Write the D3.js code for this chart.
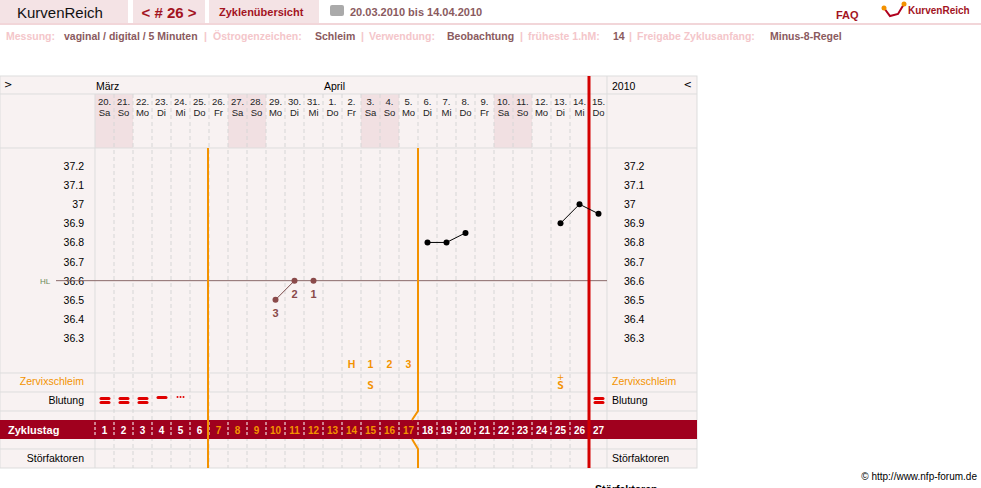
<!DOCTYPE html><html><head><meta charset="utf-8"><script src="https://cdn.jsdelivr.net/npm/d3@7"></script>
<style>body{margin:0;background:#fff;font-family:"DejaVu Sans",Verdana,sans-serif}</style></head><body><svg id="c" width="981" height="488"></svg>
<script>
const dates=["20.","21.","22.","23.","24.","25.","26.","27.","28.","29.","30.","31.","1.","2.","3.","4.","5.","6.","7.","8.","9.","10.","11.","12.","13.","14.","15."];
const weekdays=["Sa","So","Mo","Di","Mi","Do","Fr","Sa","So","Mo","Di","Mi","Do","Fr","Sa","So","Mo","Di","Mi","Do","Fr","Sa","So","Mo","Di","Mi","Do"];
const cycleDays=d3.range(1,28);
const tempTicks=[37.2,37.1,37.0,36.9,36.8,36.7,36.6,36.5,36.4,36.3];
const tempPoints=[{d:10,t:36.5},{d:11,t:36.6},{d:12,t:36.6},{d:18,t:36.8},{d:19,t:36.8},{d:20,t:36.85},{d:25,t:36.9},{d:26,t:37.0},{d:27,t:36.95}];
const tempSegments=[[10,11],[18,19],[19,20],[25,26],[26,27]];
const countLabels=[{d:10,l:"3"},{d:11,l:"2"},{d:12,l:"1"}];
const peakLabels=[{d:14,l:"H"},{d:15,l:"1"},{d:16,l:"2"},{d:17,l:"3"}];
const mucus=[{d:15,l:"S",plus:false},{d:25,l:"S",plus:true}];
const bleeding=[{d:1,k:2},{d:2,k:2},{d:3,k:2},{d:4,k:1},{d:5,k:0},{d:27,k:2}];
const hl=36.6;
const svg=d3.select("#c");
const x=d3.scaleLinear().domain([0.5,27.5]).range([95,608]);
const y=d3.scaleLinear().domain([36.3,37.2]).range([338,166]);
const cw=19;
svg.append("rect").attr("x",0).attr("y",0).attr("width",128).attr("height",23).attr("fill","#f4e3e5");
svg.append("rect").attr("x",133).attr("y",0).attr("width",72).attr("height",23).attr("fill","#f4e3e5");
svg.append("rect").attr("x",209).attr("y",0).attr("width",110).attr("height",23).attr("fill","#f4e3e5");
svg.append("rect").attr("x",0).attr("y",23).attr("width",981).attr("height",2).attr("fill","#f2d6d9");
const T=(xx,yy,s,o={})=>svg.append("text").attr("x",xx).attr("y",yy).text(s).attr("font-size",o.fs||11).attr("fill",o.c||"#000").attr("font-weight",o.fw||"normal").attr("text-anchor",o.a||"start").attr("font-family",o.ff||"DejaVu Sans, sans-serif");
T(17,18,"KurvenReich",{fs:15,c:"#111",ff:"Liberation Sans, Arial"});
T(169,18,"< # 26 >",{fs:15,c:"#a3141f",fw:"bold",a:"middle",ff:"Liberation Sans, Arial"});
T(219,16,"Zyklenübersicht",{fs:11,c:"#a3141f",fw:"bold",ff:"Liberation Sans, Arial"});
svg.append("rect").attr("x",330).attr("y",5).attr("width",14).attr("height",11).attr("fill","#aaa").attr("rx",2);
T(350,16,"20.03.2010 bis 14.04.2010",{fs:11,c:"#8a5a5e",fw:"bold",ff:"Liberation Sans, Arial"});
T(836,19,"FAQ",{fs:11,c:"#a3141f",fw:"bold",ff:"Liberation Sans, Arial"});
svg.append("path").attr("d","M884,8 L890,16 L898,14 L904,4").attr("stroke","#b0001e").attr("fill","none").attr("stroke-width",2);
[[884,8],[904,4]].forEach(p=>svg.append("circle").attr("cx",p[0]).attr("cy",p[1]).attr("r",2.5).attr("fill","#f39200"));
T(908,14,"KurvenReich",{fs:10,c:"#a3141f",fw:"bold",ff:"Liberation Sans, Arial"});
const info=[["Messung:",6,"#f4c6ca"],["vaginal / digital / 5 Minuten",64,"#8a5a5e"],["|",204,"#f4c6ca"],["Östrogenzeichen:",213,"#f4c6ca"],["Schleim",315,"#8a5a5e"],["|",361,"#f4c6ca"],["Verwendung:",369,"#f4c6ca"],["Beobachtung",447,"#8a5a5e"],["|",520,"#f4c6ca"],["früheste 1.hM:",528,"#f4c6ca"],["14",613,"#8a5a5e"],["|",629,"#f4c6ca"],["Freigabe Zyklusanfang:",637,"#f4c6ca"],["Minus-8-Regel",770,"#8a5a5e"]];
info.forEach(i=>T(i[1],40,i[0],{fs:10.5,c:i[2],fw:"bold",ff:"Liberation Sans, Arial"}));
const topY=76,botY=468;
svg.append("rect").attr("x",0).attr("y",topY).attr("width",697).attr("height",botY-topY).attr("fill","#f8f2f2").attr("stroke","#ddd");
cycleDays.filter((d,i)=>weekdays[i]==="Sa"||weekdays[i]==="So").forEach(d=>svg.append("rect").attr("x",x(d)-cw/2).attr("y",94).attr("width",cw).attr("height",54).attr("fill","#f1e0e2"));
[94,148,373,392,411,449].forEach(yy=>svg.append("line").attr("x1",0).attr("x2",697).attr("y1",yy).attr("y2",yy).attr("stroke","#ddd"));
svg.append("line").attr("x1",95).attr("x2",95).attr("y1",94).attr("y2",botY).attr("stroke","#ddd");
svg.append("line").attr("x1",607).attr("x2",607).attr("y1",topY).attr("y2",botY).attr("stroke","#ddd");
cycleDays.slice(0,26).forEach(d=>svg.append("line").attr("x1",x(d)+cw/2).attr("x2",x(d)+cw/2).attr("y1",94).attr("y2",botY).attr("stroke","#d6d6d6").attr("stroke-dasharray","4,3"));
svg.append("rect").attr("x",0).attr("y",420).attr("width",697).attr("height",19).attr("fill","#a0001e");
T(8,434,"Zyklustag",{fs:11,c:"#fff",fw:"bold",ff:"Liberation Sans, Arial"});
cycleDays.slice(0,26).forEach(d=>svg.append("line").attr("x1",x(d)+cw/2).attr("x2",x(d)+cw/2).attr("y1",422).attr("y2",437).attr("stroke","#fff").attr("stroke-dasharray","3,2"));
svg.append("line").attr("x1",95).attr("x2",95).attr("y1",422).attr("y2",437).attr("stroke","#fff").attr("stroke-dasharray","3,2");
cycleDays.forEach(d=>T(x(d),434,d,{fs:10,c:(d>=7&&d<=17)?"#f39200":"#fff",fw:"bold",a:"middle",ff:"Liberation Sans, Arial"}));
T(4,88,">",{fs:10});T(96,90,"März",{fs:10.5,ff:"Liberation Sans, Arial"});T(324,90,"April",{fs:10.5,ff:"Liberation Sans, Arial"});
T(612,90,"2010",{fs:10.5,ff:"Liberation Sans, Arial"});T(692,88,"<",{fs:10,a:"end"});
cycleDays.forEach((d,i)=>{T(x(d),105,dates[i],{fs:9.5,a:"middle",c:"#222",ff:"Liberation Sans, Arial"});T(x(d),116,weekdays[i],{fs:9.5,a:"middle",c:"#222",ff:"Liberation Sans, Arial"});});
tempTicks.forEach(t=>{const s=t===37?"37":t.toFixed(1);T(84,y(t)+4,s,{fs:10.5,a:"end",ff:"Liberation Sans, Arial"});T(624,y(t)+4,s,{fs:10.5,ff:"Liberation Sans, Arial"});});
svg.append("line").attr("x1",56).attr("x2",607).attr("y1",y(hl)).attr("y2",y(hl)).attr("stroke","#8a6a6a");
T(40,y(hl)+3,"HL",{fs:8,c:"#6a8a5a",ff:"Liberation Sans, Arial"});
T(84,385,"Zervixschleim",{fs:10.5,a:"end",c:"#f39200",ff:"Liberation Sans, Arial"});T(612,385,"Zervixschleim",{fs:10.5,c:"#f39200",ff:"Liberation Sans, Arial"});
T(84,404,"Blutung",{fs:10.5,a:"end",ff:"Liberation Sans, Arial"});T(612,404,"Blutung",{fs:10.5,ff:"Liberation Sans, Arial"});
T(84,462,"Störfaktoren",{fs:10.5,a:"end",ff:"Liberation Sans, Arial"});T(612,462,"Störfaktoren",{fs:10.5,ff:"Liberation Sans, Arial"});
svg.append("line").attr("x1",208).attr("x2",208).attr("y1",148).attr("y2",botY).attr("stroke","#f39200").attr("stroke-width",2);
const xo=x(17)+cw/2;
svg.append("path").attr("d",`M${xo},148 L${xo},411 L${xo-6},420 M${xo-6},439 L${xo},449 L${xo},${botY}`).attr("stroke","#f39200").attr("stroke-width",2).attr("fill","none");
svg.append("line").attr("x1",x(26)+cw/2).attr("x2",x(26)+cw/2).attr("y1",topY).attr("y2",botY).attr("stroke","#d40000").attr("stroke-width",3);
peakLabels.forEach(p=>T(x(p.d),368,p.l,{fs:10.5,c:"#f39200",fw:"bold",a:"middle",ff:"Liberation Sans, Arial"}));
mucus.forEach(m=>{T(x(m.d),389,m.l,{fs:11,c:"#f39200",fw:"bold",a:"middle",ff:"DejaVu Sans Mono"});if(m.plus)T(x(m.d),380,"+",{fs:9,c:"#f39200",a:"middle"});});
bleeding.forEach(b=>{const cx=x(b.d);if(b.k===2){[397,401].forEach(yy=>svg.append("rect").attr("x",cx-5).attr("y",yy).attr("width",11).attr("height",3).attr("rx",1.5).attr("fill","#e00000"));}
else if(b.k===1){svg.append("rect").attr("x",cx-5).attr("y",396).attr("width",11).attr("height",3).attr("rx",1.5).attr("fill","#e00000");}
else{[-3,0,3].forEach(o=>svg.append("circle").attr("cx",cx+o).attr("cy",397).attr("r",1).attr("fill","#e00000"));}});
const byDay=new Map(tempPoints.map(p=>[p.d,p]));
tempSegments.forEach(s=>{const a=byDay.get(s[0]),b=byDay.get(s[1]);svg.append("line").attr("x1",x(a.d)).attr("y1",y(a.t)).attr("x2",x(b.d)).attr("y2",y(b.t)).attr("stroke",a.d<15?"#7a4a4a":"#000");});
tempPoints.forEach(p=>svg.append("circle").attr("cx",x(p.d)).attr("cy",y(p.t)).attr("r",3).attr("fill",p.d<15?"#8a4a4a":"#000"));
countLabels.forEach(c=>T(x(c.d),y(byDay.get(c.d).t)+17,c.l,{fs:11,c:"#8a4a4a",fw:"bold",a:"middle",ff:"Liberation Sans, Arial"}));
T(977,480,"© http://www.nfp-forum.de",{fs:10,a:"end",ff:"Liberation Sans, Arial"});
T(595,493,"Störfaktoren",{fs:10.5,fw:"bold",ff:"Liberation Sans, Arial"});
</script></body></html>
